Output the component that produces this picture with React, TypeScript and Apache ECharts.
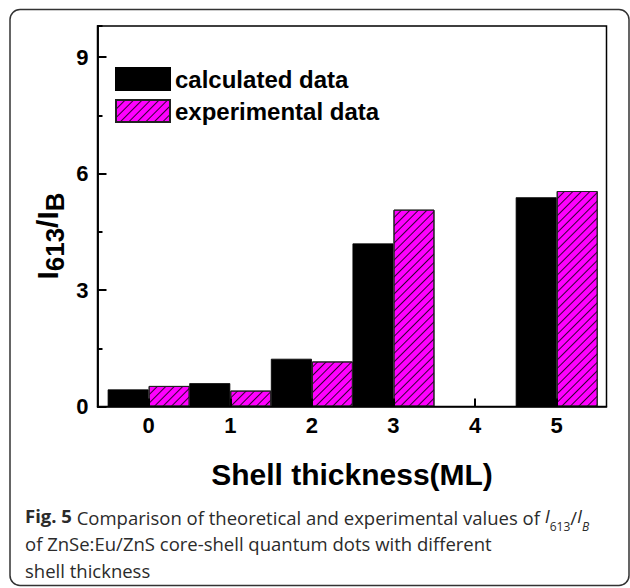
import React, { useEffect, useRef } from 'react';
import * as echarts from 'echarts';

const shells = [0, 1, 2, 3, 4, 5];
const calculated: (number | null)[] = [0.44, 0.6, 1.23, 4.2, null, 5.39];
const experimental: (number | null)[] = [0.53, 0.41, 1.16, 5.07, null, 5.55];
const seriesNames = ['calculated data', 'experimental data'];
const xTitle = 'Shell thickness(ML)';
const yTitle = '{i|I}{s|613}{i|/I}{s|B}';
const captionLines = [
  '{b|Fig. 5} Comparison of theoretical and experimental values of {it|I}{sub|613}/{it|I}{subi|B}',
  'of ZnSe:Eu/ZnS core-shell quantum dots with different',
  'shell thickness',
];

const FONT = 'Liberation Sans, Arial, sans-serif';
const CAP_FONT = 'Open Sans, Noto Sans, sans-serif';

export default function App() {
  const ref = useRef<HTMLDivElement>(null);
  useEffect(() => {
    document.body.style.margin = '0';
    const chart = echarts.init(ref.current!, null, { renderer: 'svg' });
    const toPairs = (vals: (number | null)[]) =>
      shells
        .map((s, i) => (vals[i] == null ? null : [s, vals[i]]))
        .filter((d) => d !== null);

    const hatch = {
      symbol: 'rect',
      symbolSize: 1,
      dashArrayX: [1, 0],
      dashArrayY: [1, 5],
      rotation: -Math.PI / 4,
      color: 'rgba(0,0,0,0.8)',
    };

    const option: any = {
      animation: false,
      backgroundColor: '#fff',
      grid: {
        left: 97.5,
        top: 26,
        right: 23.5,
        bottom: 181.5,
        show: true,
        borderColor: '#000',
        borderWidth: 1.5,
      },
      legend: {
        show: true,
        orient: 'vertical',
        left: 115,
        top: 67,
        padding: 0,
        itemWidth: 54,
        itemHeight: 22,
        itemGap: 8,
        icon: 'rect',
        selectedMode: false,
        data: seriesNames,
        textStyle: {
          fontFamily: FONT,
          fontWeight: 'bold',
          fontSize: 24,
          lineHeight: 22,
          color: '#000',
        },
      },
      xAxis: {
        type: 'value',
        z: 3,
        min: -0.627,
        max: 5.61,
        splitNumber: 6,
        axisLine: { show: true, onZero: false, lineStyle: { color: 'black', width: 1.5 } },
        axisTick: { show: true, inside: true, length: 8, lineStyle: { color: 'black', width: 2 } },
        splitLine: { show: false },
        axisLabel: {
          margin: 8,
          showMinLabel: false,
          showMaxLabel: false,
          fontFamily: FONT,
          fontWeight: 'bold',
          fontSize: 22,
          color: '#000',
        },
        name: xTitle,
        nameLocation: 'middle',
        nameGap: 53,
        nameTextStyle: {
          fontFamily: FONT,
          fontWeight: 'bold',
          fontSize: 30,
          color: '#000',
        },
      },
      yAxis: [
        {
          type: 'value',
          z: 3,
          min: 0,
          max: 9.8,
          interval: 3,
          position: 'left',
          axisLine: { show: true, onZero: false, lineStyle: { color: 'black', width: 1.5 } },
          axisTick: { show: true, inside: true, length: 9, lineStyle: { color: 'black', width: 2 } },
          splitLine: { show: false },
          axisLabel: {
            margin: 9,
            showMaxLabel: false,
            fontFamily: FONT,
            fontWeight: 'bold',
            fontSize: 22,
            color: '#000',
          },
        },
        {
          type: 'value',
          z: 3,
          min: 0,
          max: 9.8,
          interval: 1.5,
          position: 'left',
          axisLine: { show: true, onZero: false, lineStyle: { color: 'black', width: 1.5 } },
          axisTick: { show: true, inside: true, length: 5, lineStyle: { color: 'black', width: 2 } },
          axisLabel: { show: false },
          splitLine: { show: false },
        },
      ],
      series: [
        {
          type: 'bar',
          name: seriesNames[0],
          data: toPairs(calculated),
          barWidth: 41,
          barGap: '0%',
          itemStyle: { color: '#000', borderColor: '#000', borderWidth: 0.8 },
        },
        {
          type: 'bar',
          name: seriesNames[1],
          data: toPairs(experimental),
          barWidth: 41,
          barGap: '0%',
          itemStyle: {
            color: '#ff00ff',
            borderColor: '#222',
            borderWidth: 1,
            decal: hatch,
          },
        },
      ],
      graphic: [
        {
          type: 'rect',
          shape: { x: 10, y: 9.5, width: 619, height: 576, r: 10 },
          style: { fill: 'none', stroke: '#333', lineWidth: 1.5 },
          silent: true,
        },
        {
          type: 'text',
          x: 47,
          y: 236,
          rotation: Math.PI / 2,
          style: {
            text: yTitle,
            align: 'center',
            verticalAlign: 'middle',
            fill: '#000',
            fontFamily: FONT,
            fontWeight: 'bold',
            rich: {
              i: { fontFamily: FONT, fontWeight: 'bold', fontSize: 30, lineHeight: 30, verticalAlign: 'top', fill: '#000' },
              s: { fontFamily: FONT, fontWeight: 'bold', fontSize: 26, lineHeight: 26, padding: [10, 0, 0, 0], verticalAlign: 'top', fill: '#000' },
            },
          },
        },
        ...captionLines.map((line, i) => ({
          type: 'text',
          left: 25,
          y: [517, 543.5, 570][i],
          style: {
            text: line,
            align: 'left',
            verticalAlign: 'middle',
            fontFamily: CAP_FONT,
            fontSize: 18.5,
            fill: '#2b2b2b',
            rich: {
              b: { fontFamily: CAP_FONT, fontSize: 18.5, fontWeight: 'bold', fill: '#2b2b2b', lineHeight: 22, verticalAlign: 'top' },
              it: { fontFamily: CAP_FONT, fontSize: 18.5, fontStyle: 'italic', fill: '#2b2b2b', lineHeight: 22, verticalAlign: 'top' },
              sub: { fontFamily: CAP_FONT, fontSize: 12, fill: '#2b2b2b', lineHeight: 12, padding: [14, 0, 0, 0], verticalAlign: 'top' },
              subi: { fontFamily: CAP_FONT, fontSize: 12, fontStyle: 'italic', fill: '#2b2b2b', lineHeight: 12, padding: [14, 0, 0, 0], verticalAlign: 'top' },
            },
          },
        })),
      ],
    };
    chart.setOption(option);
    return () => chart.dispose();
  }, []);
  return <div ref={ref} style={{ width: 630, height: 588 }} />;
}
